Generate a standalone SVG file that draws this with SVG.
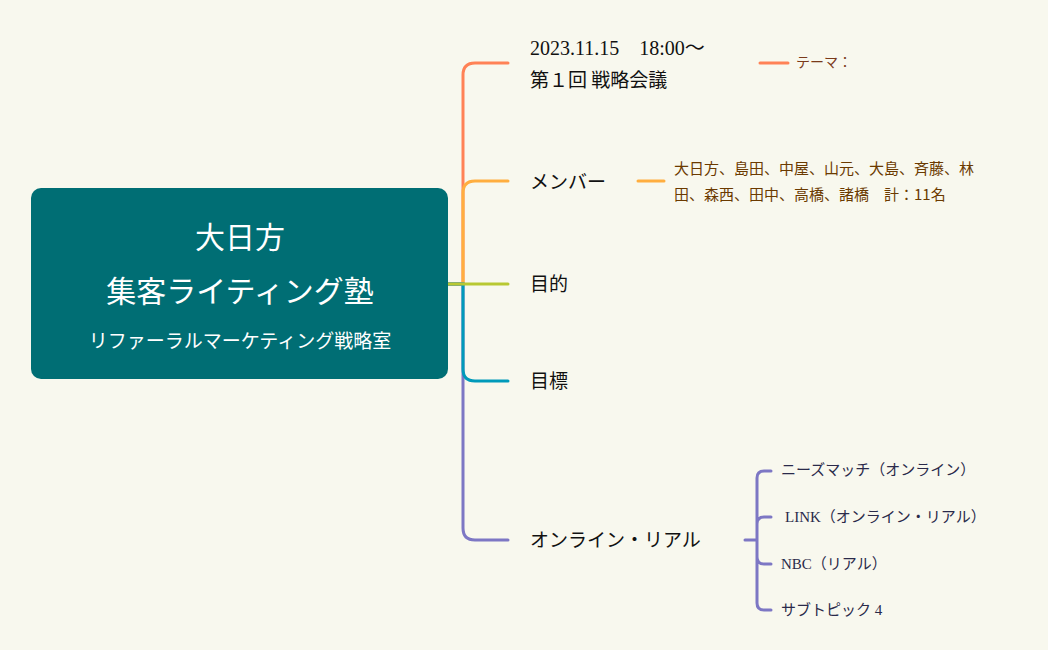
<svg xmlns="http://www.w3.org/2000/svg" width="1048" height="650" viewBox="0 0 1048 650">
<style>
.s{font-family:"Noto Sans CJK JP","Noto Sans",sans-serif}
.m{font-family:"Liberation Serif","Noto Sans CJK JP",serif}
.c{fill:none;stroke-width:3;stroke-linecap:round}
</style>
<rect width="1048" height="650" fill="#f8f8ee"/>
<g id="connectors">
<path class="c" stroke="#ff8256" d="M448 284H463V75Q463 63 475 63H508"/>
<path class="c" stroke="#ffae3f" d="M448 284H463V193Q463 181 475 181H508"/>
<path class="c" stroke="#7d77c4" d="M448 284H463V528Q463 540 475 540H508"/>
<path class="c" stroke="#009aba" d="M448 284H463V369Q463 381 475 381H508"/>
<path class="c" stroke="#b8c832" d="M448 284H508"/>
<path class="c" stroke="#ff8256" d="M760 63H788"/>
<path class="c" stroke="#ffae3f" d="M638 181H664"/>
<path class="c" stroke="#7d77c4" d="M745 540H757M757 478Q757 471 764 471H771M757 478V603Q757 610 764 610H771M757 524Q757 517 764 517H771M757 557Q757 564 764 564H771"/>
</g>
<g id="center">
<rect x="31" y="188" width="417" height="191" rx="10" fill="#006e74"/>
<text class="s" fill="#fff" font-size="30" text-anchor="middle" x="240" y="248">大日方</text>
<text class="s" fill="#fff" font-size="30" text-anchor="middle" x="240" y="302">集客ライティング塾</text>
<text class="s" fill="#fff" font-size="19" text-anchor="middle" x="240" y="348">リファーラルマーケティング戦略室</text>
</g>
<g id="n1"><text class="m" font-size="20" fill="#111" x="530" y="55">2023.11.15　18:00〜</text><text class="s" font-size="19" fill="#111" x="530" y="87">第１回 戦略会議</text></g>
<g id="n1a"><text class="s" font-size="14" fill="#7a3a1a" x="796" y="67">テーマ：</text></g>
<g id="n2"><text class="s" font-size="19" fill="#111" x="530" y="189">メンバー</text></g>
<g id="n2a"><text class="s" font-size="15" fill="#6b3a00" x="674" y="174">大日方、島田、中屋、山元、大島、斉藤、林</text><text class="s" font-size="15" fill="#6b3a00" x="674" y="200">田、森西、田中、高橋、諸橋　計：11名</text></g>
<g id="n3"><text class="s" font-size="19" fill="#111" x="530" y="291">目的</text></g>
<g id="n4"><text class="s" font-size="19" fill="#111" x="530" y="388">目標</text></g>
<g id="n5"><text class="s" font-size="19" fill="#111" x="530" y="547">オンライン・リアル</text></g>
<g id="n5a"><text class="m" font-size="15" fill="#2a2a4a" x="781" y="475">ニーズマッチ（オンライン）</text></g>
<g id="n5b"><text class="m" font-size="15" fill="#2a2a4a" x="785" y="522">LINK（オンライン・リアル）</text></g>
<g id="n5c"><text class="m" font-size="15" fill="#2a2a4a" x="781" y="569">NBC（リアル）</text></g>
<g id="n5d"><text class="m" font-size="15" fill="#2a2a4a" x="781" y="615">サブトピック 4</text></g>
</svg>
